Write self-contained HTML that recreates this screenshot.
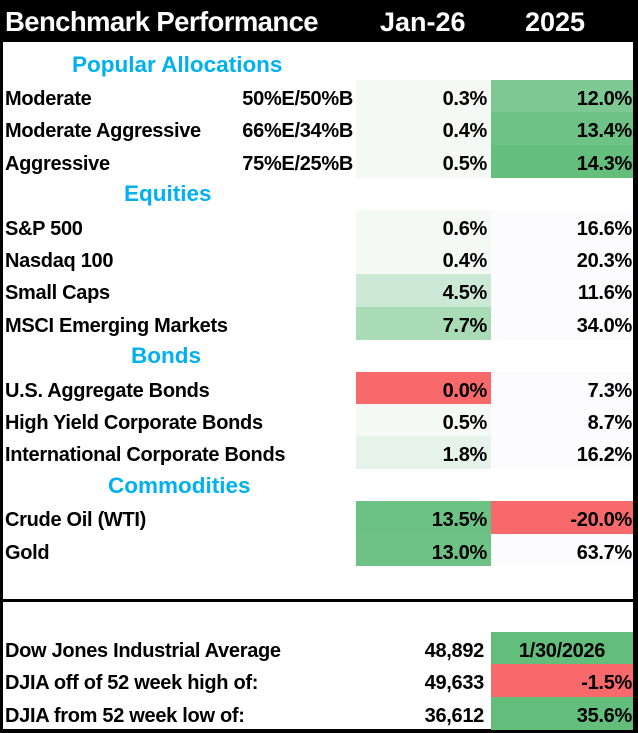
<!DOCTYPE html>
<html><head><meta charset="utf-8"><style>
html,body{margin:0;padding:0;background:#fff}
#root{position:relative;width:638px;height:733px;overflow:hidden;background:#fff;font-family:"Liberation Sans",sans-serif;font-weight:bold;color:#000}
.abs{position:absolute}
.txt{position:absolute;font-size:20px;line-height:32px;white-space:nowrap;letter-spacing:-0.3px;margin-top:3px}
.sec{position:absolute;font-size:22.5px;line-height:32px;color:#00b0f0;white-space:nowrap;margin-top:1px}
</style></head><body>
<div id="root">
  <div class="abs" style="left:0;top:0;width:638px;height:42px;background:#000"></div>
  <div class="abs" style="left:5px;top:1px;line-height:42px;font-size:27.5px;color:#fff;letter-spacing:-0.6px">Benchmark Performance</div>
  <div class="abs" style="left:380px;top:1px;line-height:42px;font-size:27px;color:#fff">Jan-26</div>
  <div class="abs" style="left:525px;top:1px;line-height:42px;font-size:27px;color:#fff">2025</div>
  <div class="abs" style="left:0;top:0;width:3px;height:733px;background:#000"></div>
  <div class="abs" style="left:633px;top:0;width:5px;height:733px;background:#000"></div>
  <div class="abs" style="left:0;top:599px;width:638px;height:3px;background:#000"></div>
  <div class="abs" style="left:0;top:729px;width:638px;height:4px;background:#000"></div>
</div>
<script>
const rowLabels=["Popular Allocations","Moderate","Moderate Aggressive","Aggressive","Equities","S&P 500","Nasdaq 100","Small Caps","MSCI Emerging Markets","Bonds","U.S. Aggregate Bonds","High Yield Corporate Bonds","International Corporate Bonds","Commodities","Crude Oil (WTI)","Gold"];
const rowIsSection=[1,0,0,0,1,0,0,0,0,1,0,0,0,1,0,0];
const allocations=["","50%E/50%B","66%E/34%B","75%E/25%B","","","","","","","","","","","",""];
const janValues=["","0.3%","0.4%","0.5%","","0.6%","0.4%","4.5%","7.7%","","0.0%","0.5%","1.8%","","13.5%","13.0%"];
const janColors=["","#f4f9f6","#f4f9f6","#f4f9f6","","#f4f9f6","#f4f9f6","#cce9d6","#a9dbb6","","#f8696b","#f4f9f6","#e6f3ea","","#6cc184","#6ec286"];
const y25Values=["","12.0%","13.4%","14.3%","","16.6%","20.3%","11.6%","34.0%","","7.3%","8.7%","16.2%","","-20.0%","63.7%"];
const y25Colors=["","#7ec993","#6fc285","#64be7c","","#fcfcff","#fcfcff","#fcfcff","#fcfcff","","#fcfcff","#fcfcff","#fcfcff","","#f8696b","#fcfcff"];
const djiaLabels=["Dow Jones Industrial Average","DJIA off of 52 week high of:","DJIA from 52 week low of:"];
const djiaValues=["48,892","49,633","36,612"];
const djiaRight=["1/30/2026","-1.5%","35.6%"];
const djiaColors=["#63be7b","#f8696b","#63be7b"];

const root=document.getElementById('root');
const RH=32.4, TOP0=47.6, JX=356, JW=135, YX=491, YW=142;
function mk(cls,style,text){const d=document.createElement('div');d.className=cls;d.setAttribute('style',style);if(text!==undefined)d.textContent=text;root.appendChild(d);return d;}
rowLabels.forEach((lab,i)=>{
  const top=TOP0+i*RH;
  if(rowIsSection[i]){
    const s=mk('sec',`left:${i===0?72:(lab==='Commodities'?108:(lab==='Bonds'?131:124))}px;top:${top}px`,lab);
    
    
    return;
  }
  if(janColors[i]){const c=mk('abs',`left:${JX}px;top:${top}px;width:${JW}px;height:${RH+0.5}px;background:${janColors[i]}`);
    
    }
  if(y25Colors[i]){const c=mk('abs',`left:${YX}px;top:${top}px;width:${YW}px;height:${RH+0.5}px;background:${y25Colors[i]}`);
    
    }
  const l=mk('txt',`left:5px;top:${top}px`,lab);
  
  
  if(allocations[i]){const a=mk('txt',`right:${638-353}px;top:${top}px`,allocations[i]);
    
    }
  const j=mk('txt',`right:${638-487}px;top:${top}px`,janValues[i]);
  
  
  const y=mk('txt',`right:${638-632}px;top:${top}px`,y25Values[i]);
  
  
});
djiaLabels.forEach((lab,i)=>{
  const top=632+i*RH;
  const c=mk('abs',`left:${YX}px;top:${top}px;width:${YW}px;height:${RH+0.5}px;background:${djiaColors[i]}`);
  
  
  const l=mk('txt',`left:5px;top:${top}px`,lab);
  
  
  const v=mk('txt',`right:${638-484}px;top:${top}px`,djiaValues[i]);
  
  
  const r=mk('txt',i===0?`left:${YX}px;width:${YW}px;text-align:center;top:${top}px`:`right:${638-632}px;top:${top}px`,djiaRight[i]);
  
  
});
</script>
</body></html>
